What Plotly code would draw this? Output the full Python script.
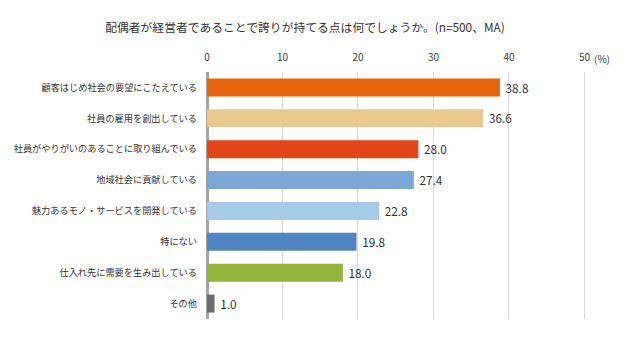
import plotly.graph_objects as go

categories = [
    "顧客はじめ社会の要望にこたえている",
    "社員の雇用を創出している",
    "社員がやりがいのあることに取り組んでいる",
    "地域社会に貢献している",
    "魅力あるモノ・サービスを開発している",
    "特にない",
    "仕入れ先に需要を生み出している",
    "その他",
]
values = [38.8, 36.6, 28.0, 27.4, 22.8, 19.8, 18.0, 1.0]
colors = ["#E8650F", "#E9C98F", "#E24516", "#7BA7D6", "#A6CBEA", "#4F85C2", "#93B43A", "#6B6B6B"]
tick_vals = [0, 10, 20, 30, 40, 50]
tick_text = ["0", "10", "20", "30", "40", "50"]
title = "配偶者が経営者であることで誇りが持てる点は何でしょうか。(n=500、MA)"

font = "Noto Sans CJK JP, Noto Sans, sans-serif"

fig = go.Figure(go.Bar(
    x=values, y=categories, orientation="h",
    marker=dict(color=colors, line=dict(width=0)),
    width=0.58,
    text=["\u00a0" + f"{v:.1f}" for v in values],
    textposition="outside",
    textfont=dict(size=12.5, color="#333333", family=font),
    cliponaxis=False,
))

fig.update_layout(
    width=630, height=351,
    margin=dict(l=207, r=38, t=72, b=32),
    paper_bgcolor="white", plot_bgcolor="white",
    showlegend=False,
    font=dict(family=font, color="#333333"),
    title=dict(text=title, x=0.484, xref="container", xanchor="center",
               y=0.92, yref="container", yanchor="middle",
               font=dict(size=11.8, color="#333333", family=font)),
    xaxis=dict(range=[0, 51], side="top", tickvals=tick_vals, ticktext=tick_text,
               tickfont=dict(size=10, color="#404040"), ticklabelstandoff=8,
               showgrid=True, gridcolor="#D9D9D9", gridwidth=1,
               zeroline=True, zerolinecolor="#A6A6A6", zerolinewidth=3,
               ticks="", showline=False, automargin=False),
    yaxis=dict(autorange="reversed", tickfont=dict(size=9.2, color="#333333"),
               ticks="", showline=False, showgrid=False, ticklabelstandoff=9,
               automargin=False),
    annotations=[dict(x=50, y=1, xref="x", yref="paper", text="(%)", showarrow=False,
                      xanchor="left", yanchor="middle", xshift=8, yshift=14,
                      font=dict(size=10, color="#404040", family=font))],
)

fig.write_html("out.html")
